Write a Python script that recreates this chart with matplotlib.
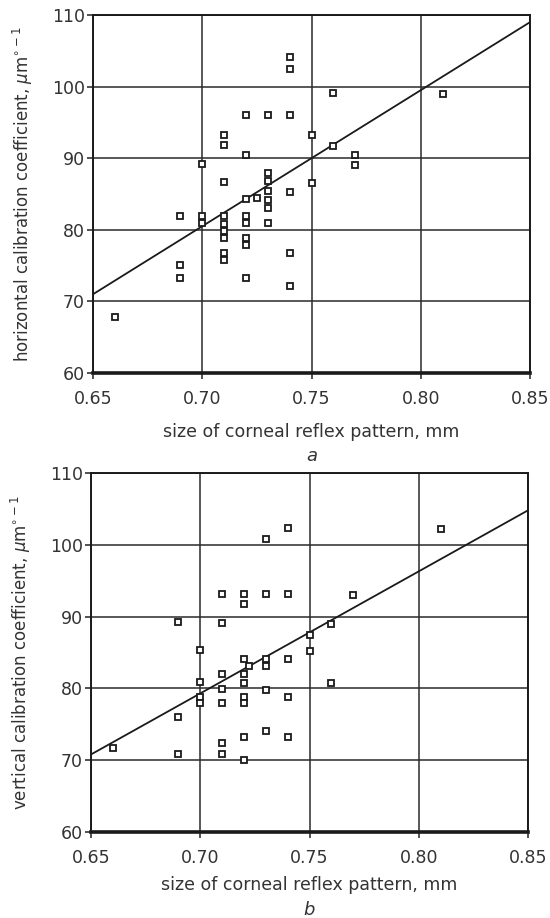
import matplotlib.pyplot as plt

# panel a: horizontal calibration coefficient
h_size = [0.74, 0.74, 0.76, 0.81, 0.72, 0.73, 0.74, 0.71, 0.71, 0.75,
          0.76, 0.72, 0.77, 0.77, 0.70, 0.71, 0.75, 0.73, 0.73, 0.73,
          0.73, 0.73, 0.73, 0.74, 0.72, 0.725, 0.72, 0.72, 0.72, 0.72,
          0.72, 0.69, 0.70, 0.70, 0.71, 0.71, 0.71, 0.71, 0.71, 0.71,
          0.69, 0.69, 0.74, 0.74, 0.66]
h_coef = [104.2, 102.4, 99.1, 98.9, 96.0, 96.0, 96.0, 93.2, 91.8, 93.2,
          91.7, 90.4, 90.4, 89.0, 89.2, 86.7, 86.6, 87.9, 86.8, 85.4,
          84.2, 83.1, 80.9, 85.3, 84.3, 84.5, 81.9, 80.9, 78.9, 77.9,
          73.2, 81.9, 81.9, 80.9, 81.9, 80.8, 79.9, 78.9, 76.8, 75.8,
          75.1, 73.2, 76.8, 72.2, 67.8]
h_fit_x = [0.65, 0.85]
h_fit_y = [71.0, 109.0]

# panel b: vertical calibration coefficient
v_size = [0.74, 0.73, 0.81, 0.71, 0.72, 0.73, 0.74, 0.77, 0.72, 0.69,
          0.71, 0.76, 0.75, 0.70, 0.75, 0.72, 0.73, 0.74, 0.7225, 0.73,
          0.71, 0.72, 0.72, 0.70, 0.76, 0.71, 0.73, 0.72, 0.74, 0.70,
          0.70, 0.71, 0.72, 0.69, 0.73, 0.72, 0.74, 0.71, 0.69, 0.71,
          0.72, 0.66]
v_coef = [102.3, 100.8, 102.2, 93.2, 93.2, 93.2, 93.2, 93.0, 91.7, 89.2,
          89.1, 89.0, 87.5, 85.4, 85.2, 84.1, 84.1, 84.1, 83.1, 83.1,
          82.0, 82.0, 80.8, 80.9, 80.7, 79.9, 79.8, 78.8, 78.8, 78.8,
          77.9, 77.9, 77.9, 76.0, 74.1, 73.2, 73.2, 72.4, 70.8, 70.8,
          70.0, 71.7]
v_fit_x = [0.65, 0.85]
v_fit_y = [70.8, 104.8]

x_ticks = [0.65, 0.70, 0.75, 0.80, 0.85]
y_ticks = [60, 70, 80, 90, 100, 110]

fig = plt.figure(figsize=(5.5, 9.18), dpi=100)
ax1 = fig.add_axes([93 / 550, 1 - 373 / 918, 437 / 550, 358 / 918])
ax2 = fig.add_axes([91 / 550, 1 - 832 / 918, 437 / 550, 359 / 918])

panels = [
    (ax1, h_size, h_coef, h_fit_x, h_fit_y,
     'horizontal calibration coefficient, $\\mu$m$^{\\circ-1}$', 'a', 11, -0.232),
    (ax2, v_size, v_coef, v_fit_x, v_fit_y,
     'vertical calibration coefficient, $\\mu$m$^{\\circ-1}$', 'b', 7, -0.217),
]

for ax, xs, ys, fx, fy, ylab, tag, xpad, tag_y in panels:
    ax.set_xlim(0.65, 0.85)
    ax.set_ylim(60, 110)
    ax.set_xticks(x_ticks)
    ax.set_xticklabels(['%.2f' % t for t in x_ticks])
    ax.set_yticks(y_ticks)
    ax.grid(True, color='#2a2a2a', linewidth=1.1)
    ax.set_axisbelow(True)
    ax.plot(fx, fy, color='#1a1a1a', linewidth=1.3, zorder=3)
    ax.plot(xs, ys, linestyle='none', marker='s', markersize=5,
            markerfacecolor='white', markeredgecolor='#1a1a1a',
            markeredgewidth=1.3, zorder=4)
    for s in ax.spines.values():
        s.set_linewidth(1.4)
        s.set_color('#1a1a1a')
    ax.spines['bottom'].set_linewidth(2.6)
    ax.tick_params(labelsize=12.5, length=4, width=1.2, colors='#333333')
    ax.tick_params(axis='x', pad=8)
    ax.tick_params(axis='y', pad=2)
    ax.set_xlabel('size of corneal reflex pattern, mm', fontsize=12.5,
                  color='#333333', labelpad=xpad)
    ax.set_ylabel(ylab, fontsize=12, color='#333333', labelpad=12)
    ax.text(0.5, tag_y, tag, transform=ax.transAxes, ha='center',
            va='center', fontsize=13, style='italic', color='#333333')

fig.savefig('out.png', dpi=100, facecolor='white')
